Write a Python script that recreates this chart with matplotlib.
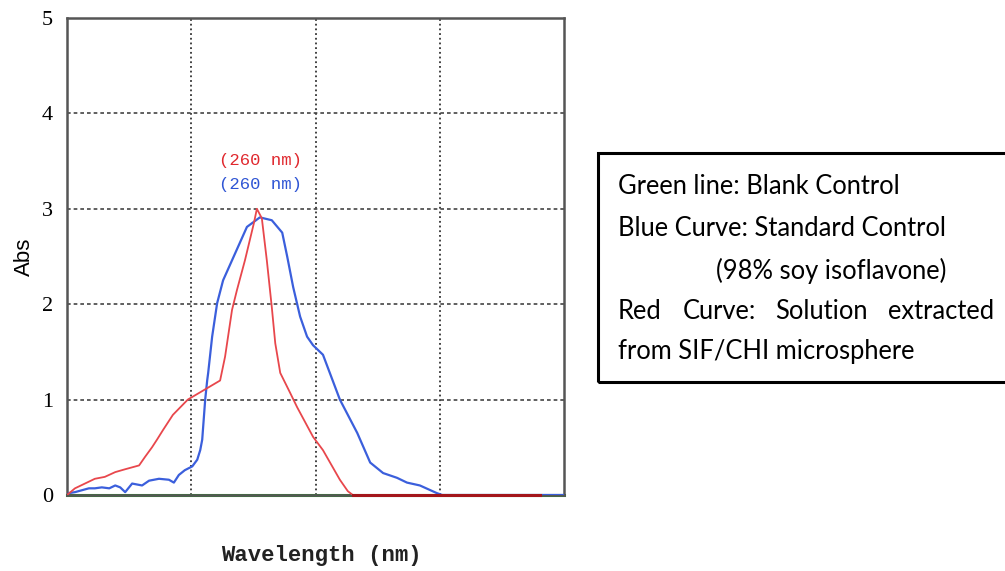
"""UV-Vis absorbance spectra: blank, standard soy isoflavone, and SIF/CHI extract."""

import numpy as np
import matplotlib
matplotlib.use("Agg")
import matplotlib.pyplot as plt

# wavelength (nm) / absorbance
red_wl = [220.0, 221.6, 223.6, 225.6, 227.6, 229.7, 231.7, 234.5, 235.7, 237.1,
          238.1, 239.3, 241.3, 244.3, 250.8, 251.8, 253.2, 254.2, 255.8, 257.6,
          258.2, 259.2, 260.2, 261.2, 261.9, 262.9, 264.9, 266.3, 269.5, 271.5,
          274.9, 276.5, 277.5, 315.2]
red_abs = [0.00, 0.07, 0.12, 0.17, 0.19, 0.24, 0.27, 0.31, 0.40, 0.50,
           0.58, 0.68, 0.84, 1.00, 1.20, 1.45, 1.94, 2.15, 2.46, 2.85,
           3.00, 2.90, 2.46, 1.97, 1.59, 1.28, 1.07, 0.92, 0.61, 0.47,
           0.16, 0.04, 0.00, 0.00]

blue_wl = [220.4, 221.6, 223.0, 224.4, 225.6, 227.0, 228.5, 229.7, 230.7, 231.7,
           233.1, 235.1, 236.5, 238.5, 240.5, 241.5, 242.5, 243.7, 245.2, 246.2,
           246.8, 247.2, 247.8, 248.2, 248.4, 249.2, 250.2, 251.4, 253.2, 256.2,
           258.8, 261.2, 263.3, 264.3, 265.5, 266.9, 268.3, 269.5, 270.5, 271.5,
           274.9, 278.4, 281.0, 283.6, 286.4, 288.4, 291.0, 294.4, 295.5, 320.0]
blue_abs = [0.02, 0.03, 0.05, 0.07, 0.07, 0.08, 0.07, 0.10, 0.08, 0.03,
            0.12, 0.10, 0.15, 0.17, 0.16, 0.13, 0.21, 0.26, 0.30, 0.37,
            0.47, 0.58, 1.00, 1.20, 1.28, 1.66, 2.01, 2.25, 2.46, 2.81,
            2.91, 2.88, 2.75, 2.50, 2.18, 1.87, 1.66, 1.57, 1.52, 1.47,
            1.00, 0.65, 0.34, 0.23, 0.18, 0.13, 0.10, 0.02, 0.00, 0.00]

green_wl = [220.0, 320.0]
green_abs = [0.0, 0.0]

x_grid = [245, 270, 295]
y_ticks = [0, 1, 2, 3, 4, 5]
peak_labels = ["(260 nm)", "(260 nm)"]

legend_lines = [
    "Green line: Blank Control",
    "Blue Curve: Standard Control",
]
legend_indent = "(98% soy isoflavone)"
legend_justified = ["Red", "Curve:", "Solution", "extracted"]
legend_last = "from SIF/CHI microsphere"

fig = plt.figure(figsize=(10.05, 5.71), dpi=100)
ax = fig.add_axes([0.0667, 0.1331, 0.4945, 0.8354])

ax.set_xlim(220, 320)
ax.set_ylim(0, 5)

# grid: vertical dotted, horizontal short dashes
for xv in x_grid:
    ax.axvline(xv, color="#333333", lw=1.3, ls=(0, (1, 1.6)), zorder=1)
for yv in y_ticks[1:-1]:
    ax.axhline(yv, color="#444444", lw=1.2, ls=(0, (2.2, 1.8)), zorder=1)

ax.plot(green_wl, green_abs, color="#1f9a1f", lw=2.2, zorder=2, clip_on=False)
ax.plot(blue_wl, blue_abs, color="#3b5fdc", lw=1.6, zorder=3)
ax.plot(red_wl, red_abs, color="#e8474c", lw=1.3, zorder=4)

# flat tail of the red curve after the peak shows darker
rw = np.array(red_wl)
ra = np.array(red_abs)
tail = (rw > rw[ra.argmax()]) & (ra == 0)
ax.plot(rw[tail], ra[tail], color="#a3161b", lw=2.2, zorder=5, clip_on=False)

ax.set_xticks([])
ax.set_yticks(y_ticks)
ax.set_yticklabels([str(t) for t in y_ticks], fontfamily="Liberation Serif",
                   fontsize=16)
ax.tick_params(axis="y", length=0, pad=10)

for s in ax.spines.values():
    s.set_color("#555555")
    s.set_linewidth(1.8)

ax.set_ylabel("Abs", fontfamily="Liberation Sans", fontsize=16, labelpad=5)
ax.set_xlabel("Wavelength (nm)", fontfamily="Liberation Mono", fontsize=16,
              fontweight="bold", color="#222222")
ax.xaxis.set_label_coords(0.511, -0.105)

# peak annotations
peak_x = red_wl[int(np.argmax(red_abs))]
ax.text(peak_x + 0.8, 3.51, peak_labels[0], color="#e0282e", ha="center",
        va="center", fontfamily="Liberation Mono", fontsize=12.4)
ax.text(peak_x + 0.8, 3.25, peak_labels[1], color="#2f55d4", ha="center",
        va="center", fontfamily="Liberation Mono", fontsize=12.4)

# description box (runs off the right edge)
W, H = 1005.0, 571.0
box = plt.Rectangle((598 / W, 1 - 382 / H), 420 / W, (382 - 153) / H,
                    transform=fig.transFigure, fill=False, ec="black",
                    lw=2.2, clip_on=False)
fig.patches.append(box)

fkw = dict(fontfamily="Lato", fontsize=18.4, color="black", va="center")
fig.text(618 / W, 1 - 187 / H, legend_lines[0], **fkw)
fig.text(618 / W, 1 - 229 / H, legend_lines[1], **fkw)
fig.text(716 / W, 1 - 271 / H, legend_indent, **fkw)
for word, xp in zip(legend_justified, [618, 683, 775, 888]):
    fig.text(xp / W, 1 - 312 / H, word, **fkw)
fig.text(618 / W, 1 - 352 / H, legend_last, **fkw)

fig.savefig("out.png", dpi=100)
